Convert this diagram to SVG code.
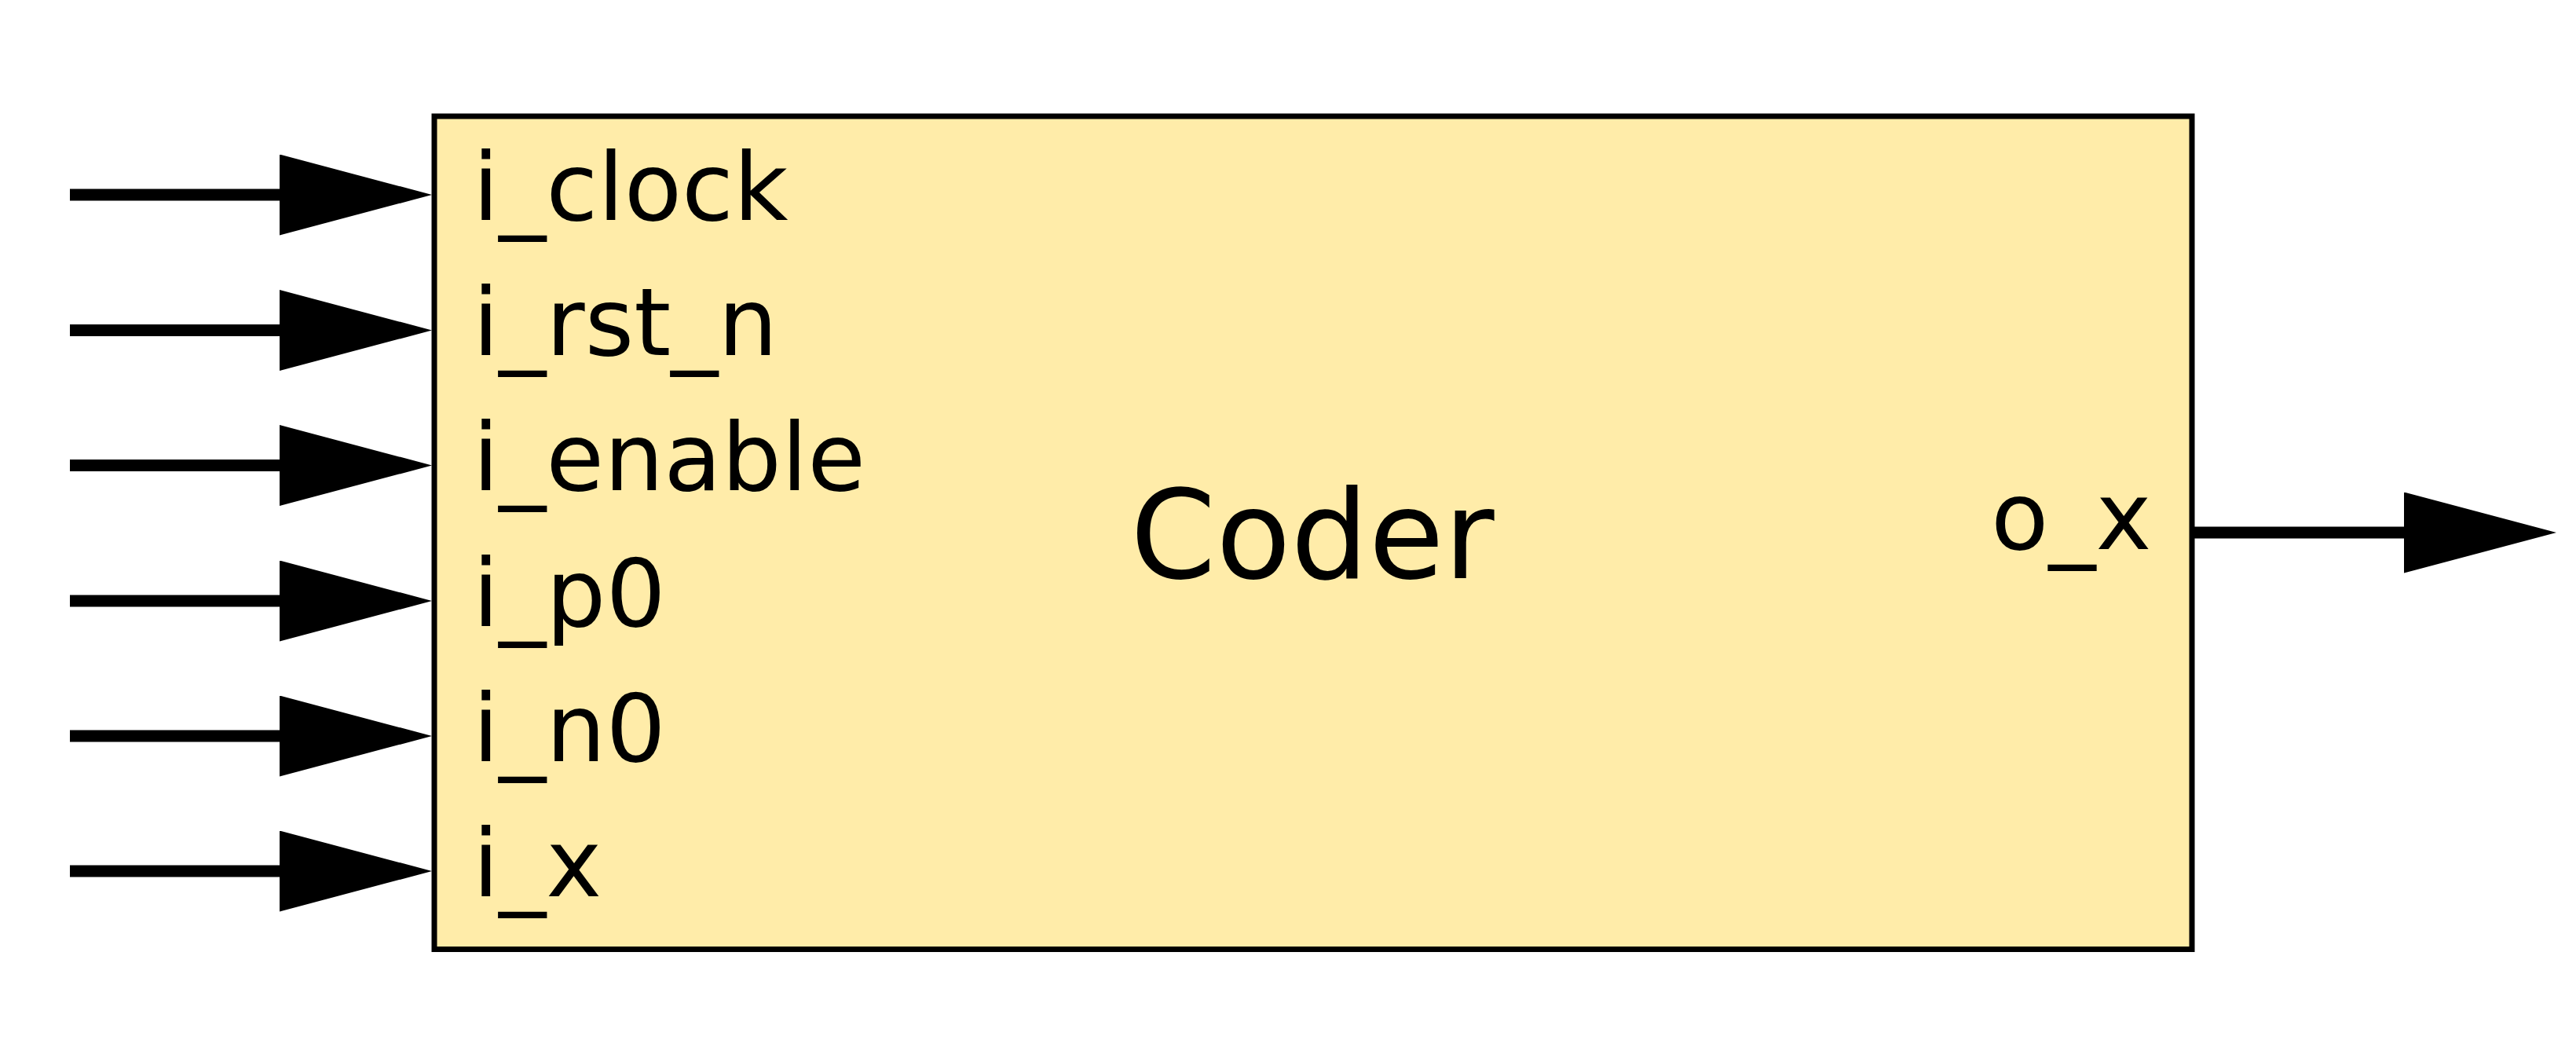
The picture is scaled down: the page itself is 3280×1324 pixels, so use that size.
<svg xmlns="http://www.w3.org/2000/svg" width="3280" height="1324" viewBox="0 0 3280 1324">
  <style>
    .box { fill: #ffeca9; stroke: #000000; stroke-width: 7; }
    .wire { stroke: #000000; stroke-width: 15; fill: none; marker-end: url(#arrow); }
    .port { font-family: "DejaVu Sans", "Liberation Sans", sans-serif; font-size: 120px; fill: #000000; }
    .title { font-family: "DejaVu Sans", "Liberation Sans", sans-serif; font-size: 156px; fill: #000000; text-anchor: middle; }
  </style>
  <defs>
    <marker id="arrow" markerUnits="userSpaceOnUse" markerWidth="194" markerHeight="103" refX="0" refY="51.5" orient="auto" viewBox="0 0 194 103">
      <path d="M0,0 L194,51.5 L0,103 Z" fill="#000000"/>
    </marker>
  </defs>
  <rect x="0" y="0" width="3280" height="1324" fill="#ffffff"/>
  <g id="coder">
    <rect class="box" x="553" y="148" width="2238" height="1060.5"/>
    <text class="title" x="1671" y="736">Coder</text>
    <text class="port" x="602" y="280">i_clock</text>
    <text class="port" x="602" y="452">i_rst_n</text>
    <text class="port" x="602" y="624">i_enable</text>
    <text class="port" x="602" y="796.5">i_p0</text>
    <text class="port" x="602" y="968.5">i_n0</text>
    <text class="port" x="602" y="1140.5">i_x</text>
    <text class="port" x="2535" y="699">o_x</text>
  </g>
  <g id="connectors">
    <line class="wire" x1="89" y1="248" x2="356" y2="248"/>
    <line class="wire" x1="89" y1="420.5" x2="356" y2="420.5"/>
    <line class="wire" x1="89" y1="592.5" x2="356" y2="592.5"/>
    <line class="wire" x1="89" y1="765" x2="356" y2="765"/>
    <line class="wire" x1="89" y1="937" x2="356" y2="937"/>
    <line class="wire" x1="89" y1="1109" x2="356" y2="1109"/>
    <line class="wire" x1="2791" y1="678" x2="3061" y2="678"/>
  </g>
</svg>
